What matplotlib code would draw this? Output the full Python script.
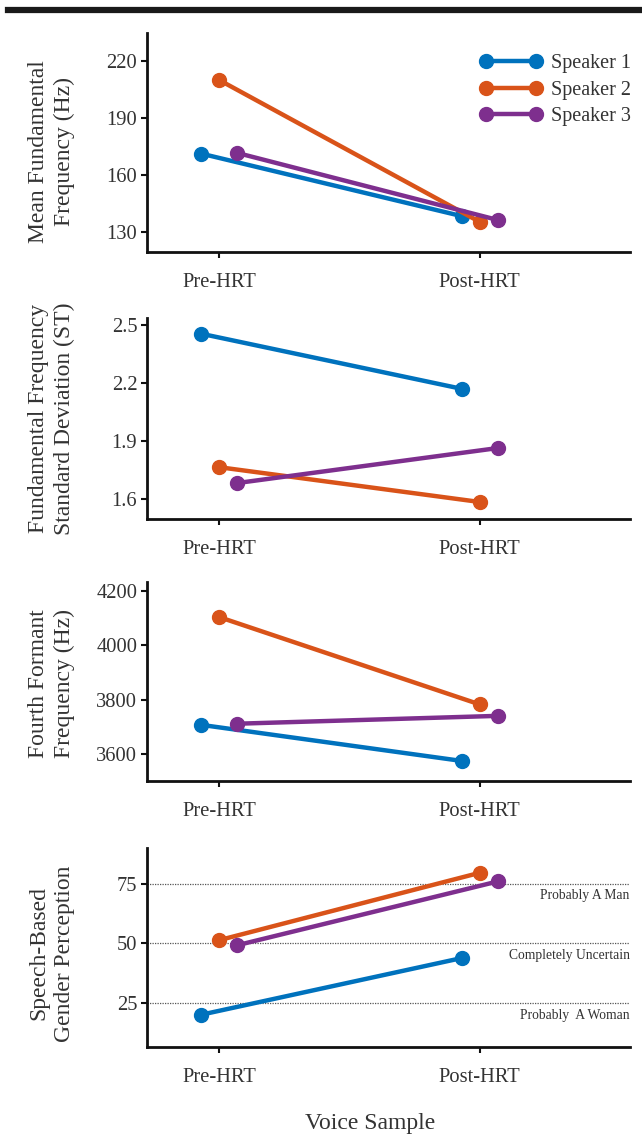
import matplotlib.pyplot as plt
from matplotlib.lines import Line2D

plt.rcParams["font.family"] = ["Liberation Serif", "DejaVu Serif"]

# data
samples = ["Pre-HRT", "Post-HRT"]
speakers = ["Speaker 1", "Speaker 2", "Speaker 3"]
colors = ["#0072BD", "#D95319", "#7E2F8E"]
offsets = [-0.07, 0.0, 0.07]

mean_f0 = [[171.3, 138.4], [210.0, 135.3], [171.6, 136.3]]
f0_sd = [[2.455, 2.17], [1.765, 1.585], [1.683, 1.864]]
f4 = [[3707, 3574], [4104, 3782], [3711, 3740]]
gender = [[20.0, 43.8], [51.3, 79.6], [49.2, 76.0]]

panels = [
    (mean_f0, "Mean Fundamental\nFrequency (Hz)", [130, 160, 190, 220], (119.5, 234.7)),
    (f0_sd, "Fundamental Frequency\nStandard Deviation (ST)", [1.6, 1.9, 2.2, 2.5], (1.497, 2.536)),
    (f4, "Fourth Formant\nFrequency (Hz)", [3600, 3800, 4000, 4200], (3500, 4233)),
    (gender, "Speech-Based\nGender Perception", [25, 50, 75], (6.5, 90)),
]
label_y = [0.457, 0.5, 0.49, 0.47]
ref_levels = [75, 50, 25]
ref_labels = ["Probably A Man", "Completely Uncertain", "Probably  A Woman"]

fig = plt.figure(figsize=(6.42, 11.45), dpi=100)
boxes = [(0.7799, 0.1913), (0.5467, 0.1756), (0.3179, 0.1738), (0.0856, 0.1738)]

fig.add_artist(Line2D([0.012, 1.0], [0.9913, 0.9913], color="#1a1a1a", lw=4.5))

axes = []
for (data, ylabel, yticks, ylim), (bottom, height), ly in zip(panels, boxes, label_y):
    ax = fig.add_axes([0.229, bottom, 0.752, height])
    for vals, col, off, name in zip(data, colors, offsets, speakers):
        ax.plot([0 + off, 1 + off], vals, color=col, lw=3.2, marker="o", ms=10, label=name,
                solid_capstyle="round")
    ax.set_xlim(-0.276, 1.575)
    ax.set_ylim(*ylim)
    ax.set_xticks([0, 1])
    ax.set_xticklabels(samples)
    ax.set_yticks(yticks)
    ax.set_yticklabels([f"{t:.1f}" if isinstance(t, float) else str(t) for t in yticks])
    ax.set_ylabel(ylabel, fontsize=17, color="#333333", linespacing=1.25)
    ax.yaxis.set_label_coords(-0.15, ly)
    for side in ["top", "right"]:
        ax.spines[side].set_visible(False)
    for side in ["left", "bottom"]:
        ax.spines[side].set_linewidth(2.0)
        ax.spines[side].set_color("#111111")
    ax.tick_params(axis="both", labelsize=14.8, colors="#111111", labelcolor="#333333",
                   width=1.5, length=4)
    ax.tick_params(axis="x", pad=11)
    ax.tick_params(axis="y", pad=3)
    axes.append(ax)

axes[0].legend(loc="upper right", frameon=False, fontsize=14.5, numpoints=2,
               handlelength=3.1, labelspacing=0.36, borderaxespad=0.0,
               handletextpad=0.45, labelcolor="#333333", bbox_to_anchor=(1.02, 0.94))

ax = axes[3]
for lvl, txt in zip(ref_levels, ref_labels):
    ax.axhline(lvl, color="#555555", lw=0.9, ls=(0, (1, 1)), zorder=0)
    ax.text(1.0, lvl - 2.4, txt, transform=ax.get_yaxis_transform(), ha="right", va="top",
            fontsize=9.8, color="#333333")
ax.set_xlabel("Voice Sample", fontsize=17, color="#333333")
ax.xaxis.set_label_coords(0.462, -0.33)

fig.savefig("out.png", dpi=100)
